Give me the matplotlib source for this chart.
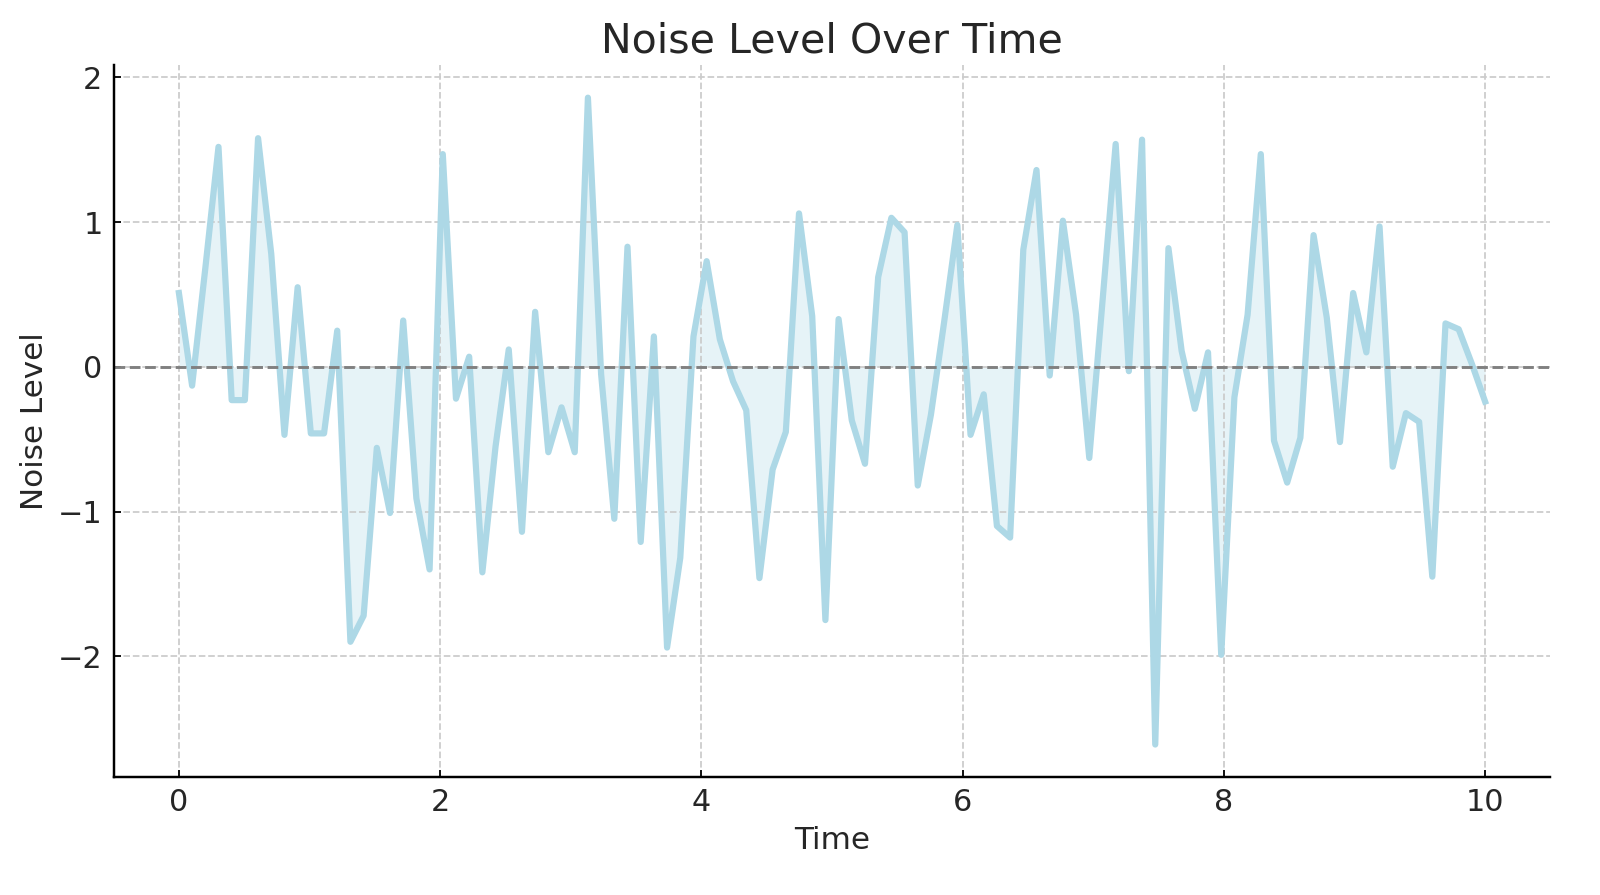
import matplotlib.pyplot as plt
import numpy as np

# time axis: 100 samples between 0 and 10
time = np.linspace(0, 10, 100)

# noise values
noise = [
    0.51, -0.13, 0.68, 1.52, -0.23, -0.23, 1.58, 0.78, -0.47, 0.55,
    -0.46, -0.46, 0.25, -1.90, -1.72, -0.56, -1.01, 0.32, -0.91, -1.40,
    1.47, -0.22, 0.07, -1.42, -0.55, 0.12, -1.14, 0.38, -0.59, -0.28,
    -0.59, 1.86, -0.05, -1.05, 0.83, -1.21, 0.21, -1.94, -1.32, 0.21,
    0.73, 0.19, -0.10, -0.30, -1.46, -0.71, -0.45, 1.06, 0.35, -1.75,
    0.33, -0.37, -0.67, 0.62, 1.03, 0.93, -0.82, -0.33, 0.31, 0.98,
    -0.47, -0.19, -1.10, -1.18, 0.81, 1.36, -0.06, 1.01, 0.36, -0.63,
    0.45, 1.54, -0.03, 1.57, -2.61, 0.82, 0.11, -0.29, 0.10, -1.99,
    -0.21, 0.36, 1.47, -0.51, -0.80, -0.49, 0.91, 0.34, -0.52, 0.51,
    0.10, 0.97, -0.69, -0.32, -0.38, -1.45, 0.30, 0.26, 0.02, -0.24,
]

fig = plt.figure(figsize=(10, 5.59375), dpi=160)
ax = fig.add_axes([0.071, 0.132, 0.898, 0.795])

ax.plot(time, noise, color='lightblue', linewidth=2.8)
ax.fill_between(time, noise, 0, color='lightblue', alpha=0.3, linewidth=0)
ax.axhline(0, color='gray', linestyle='--', linewidth=1.3)

ax.set_title('Noise Level Over Time', fontsize=18.5, color='#262626')
ax.set_xlabel('Time', fontsize=14, color='#262626')
ax.set_ylabel('Noise Level', fontsize=14, color='#262626')
ax.tick_params(labelsize=13.6, labelcolor='#262626', direction='in', length=3, pad=5)
ax.grid(True, linestyle='--', color='#cccccc', linewidth=0.8)
ax.spines['top'].set_visible(False)
ax.spines['right'].set_visible(False)
for side in ['left', 'bottom']:
    ax.spines[side].set_linewidth(1.1)

plt.savefig('out.png', dpi=160)
